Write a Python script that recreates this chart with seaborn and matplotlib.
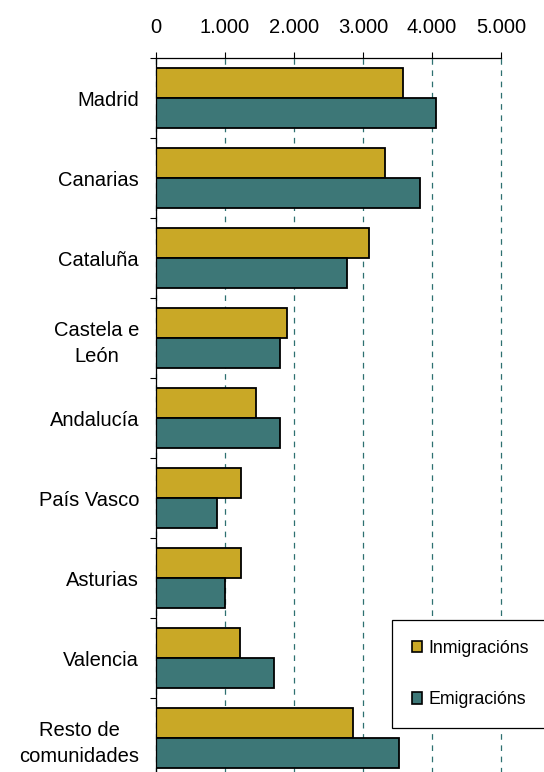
import matplotlib
matplotlib.use("Agg")
import matplotlib.pyplot as plt
import seaborn as sns
import pandas as pd
from matplotlib.patches import Patch
from matplotlib.ticker import FuncFormatter, FixedLocator

# Data
regions = ["Madrid", "Canarias", "Cataluña", "Castela e\nLeón", "Andalucía",
           "País Vasco", "Asturias", "Valencia", "Resto de\ncomunidades"]
inmigracions = [3580, 3320, 3090, 1900, 1450, 1240, 1240, 1220, 2860]
emigracions = [4060, 3830, 2770, 1800, 1800, 890, 1000, 1710, 3530]
series_names = ["Inmigracións", "Emigracións"]
x_ticks = [0, 1000, 2000, 3000, 4000, 5000]

GOLD = "#C9A826"
TEAL = "#3D7777"

df = pd.DataFrame({
    "Comunidade": regions * 2,
    "Valor": inmigracions + emigracions,
    "Serie": [series_names[0]] * len(regions) + [series_names[1]] * len(regions),
})

sns.set_style("white")
plt.rcParams["font.family"] = ["Liberation Sans", "DejaVu Sans"]
plt.rcParams["text.color"] = "black"
plt.rcParams["xtick.color"] = "black"
plt.rcParams["ytick.color"] = "black"

fig = plt.figure(figsize=(5.44, 7.72), dpi=100)
ax = fig.add_axes([0.2862, -0.0078, 0.6348, 0.9326])

sns.barplot(data=df, y="Comunidade", x="Valor", hue="Serie", order=regions,
            hue_order=series_names, palette=[GOLD, TEAL], orient="h",
            width=0.74, edgecolor="black", linewidth=1.3, legend=False,
            saturation=1, ax=ax)

ax.set_xlim(0, 5000)
ax.set_ylim(len(regions) - 0.5, -0.5)
ax.set_xlabel("")
ax.set_ylabel("")

# axis on top
ax.xaxis.tick_top()
ax.set_xticks(x_ticks)
ax.xaxis.set_major_formatter(FuncFormatter(lambda v, p: f"{int(v):,}".replace(",", ".")))
ax.tick_params(axis="x", which="major", direction="out", length=4.5, width=0.8,
               color="black", labelcolor="black", labelsize=14.5, pad=11,
               top=True, bottom=False)

# category labels at band centres, ticks at band boundaries
ax.tick_params(axis="y", which="major", length=0, labelsize=14.5, pad=12,
               labelcolor="black")
ax.yaxis.set_minor_locator(FixedLocator([i - 0.5 for i in range(len(regions) + 1)]))
ax.tick_params(axis="y", which="minor", direction="out", length=4.5, width=0.8,
               color="black", left=True)
for lbl in ax.get_yticklabels():
    lbl.set_multialignment("center")
    lbl.set_linespacing(1.45)

ax.xaxis.grid(True, linestyle=(0, (4.5, 4.5)), color="#2E7070", linewidth=0.9)
ax.yaxis.grid(False)
ax.set_axisbelow(True)
for gl in ax.get_xgridlines():
    gl.set_clip_on(False)

for side in ["right", "bottom"]:
    ax.spines[side].set_visible(False)
for side in ["top", "left"]:
    ax.spines[side].set_color("black")
    ax.spines[side].set_linewidth(0.9)

handles = [Patch(facecolor=GOLD, edgecolor="black", linewidth=1.2),
           Patch(facecolor=TEAL, edgecolor="black", linewidth=1.2)]
leg = fig.legend(handles, series_names, loc="upper left",
                 bbox_to_anchor=(392 / 544, 1 - 620 / 772 - 0.01, 0.3, 0.01),
                 mode="expand", fontsize=12.8, frameon=True, fancybox=False,
                 framealpha=1, edgecolor="black", handlelength=0.6,
                 handleheight=0.6, handletextpad=0.35, labelspacing=1.95,
                 borderpad=1.1, borderaxespad=0)
leg.get_frame().set_linewidth(0.9)
for t in leg.get_texts():
    t.set_color("black")

fig.savefig("out.png", dpi=100)
